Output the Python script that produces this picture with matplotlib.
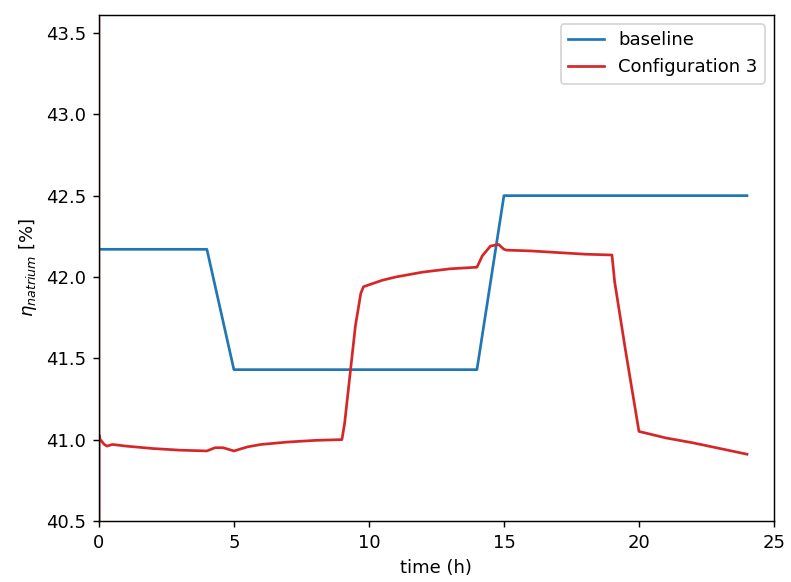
import matplotlib.pyplot as plt

# baseline efficiency (piecewise)
base_t = [0, 4, 5, 14, 15, 24]
base_eta = [42.17, 42.17, 41.43, 41.43, 42.5, 42.5]

# configuration 3 efficiency
conf_t = [0, 0, 0, 0.05, 0.2, 0.3, 0.5, 1, 2, 3, 4, 4.3, 4.6, 4.8, 5,
          5.5, 6, 7, 8, 9, 9.1, 9.3, 9.5, 9.7, 9.8, 10.5, 11, 12, 13, 14,
          14.2, 14.5, 14.8, 15.0, 15.1, 16, 17, 18, 19, 19.1, 19.5, 20,
          21, 22, 23, 24]
conf_eta = [44.0, 40.0, 41.03, 41.0, 40.97, 40.96, 40.97, 40.96, 40.945, 40.935, 40.93,
            40.95, 40.95, 40.94, 40.93,
            40.955, 40.97, 40.985, 40.995, 41.0, 41.1, 41.4, 41.7, 41.9, 41.94,
            41.98, 42.0, 42.03, 42.05, 42.06,
            42.13, 42.19, 42.2, 42.17, 42.165, 42.16, 42.15, 42.14, 42.135,
            41.97, 41.55, 41.05,
            41.01, 40.98, 40.945, 40.91]

dpi = 130
fig, ax = plt.subplots(figsize=(791 / dpi, 582 / dpi), dpi=dpi)
fig.subplots_adjust(left=0.125, right=0.9785, top=0.974, bottom=0.105)

ax.plot(base_t, base_eta, color="#1f77b4", label="baseline")
ax.plot(conf_t, conf_eta, color="#d62728", label="Configuration 3")

ax.set_xlim(0, 25)
ax.set_ylim(40.5, 43.61)
ax.set_xlabel("time (h)")
ax.set_ylabel(r"$\eta_{natrium}$ [%]")
ax.legend(loc="upper right")

plt.savefig("out.png", dpi=dpi)
